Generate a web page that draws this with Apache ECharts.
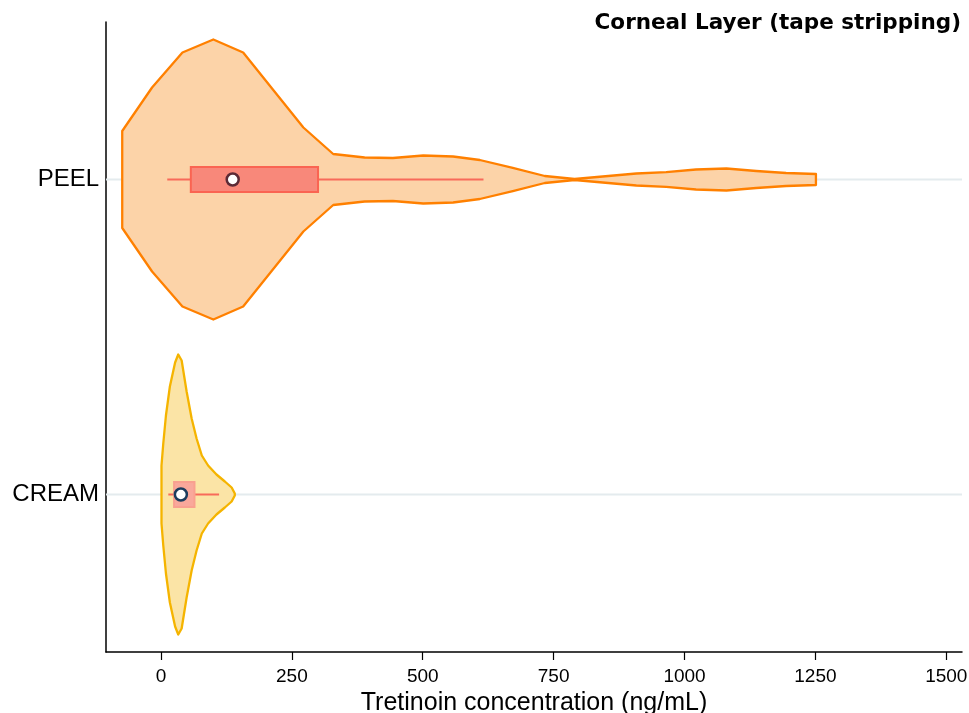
<!DOCTYPE html>
<html>
<head>
<meta charset="utf-8">
<title>Corneal Layer (tape stripping)</title>
<script src="https://cdn.jsdelivr.net/npm/echarts@6/dist/echarts.min.js"></script>
<style>
  html, body { margin: 0; padding: 0; background: #fff; }
  #chart { width: 969px; height: 713px; }
</style>
</head>
<body>
<div id="chart"></div>
<script>
// categories, bottom to top
var categories = ['CREAM', 'PEEL'];

// violin outlines: concentration (ng/mL) and relative density
var peelConc = [-74, -17, 41, 100, 157, 272, 329, 389, 443, 501, 558, 609, 672, 733, 790, 908, 965, 1022, 1080, 1137, 1194, 1251];
var peelDensity = [48.5, 92, 127, 140, 127, 52, 25.5, 22, 21.5, 24, 23, 19.5, 11.7, 3.5, 0.5, 6, 7.4, 10, 11, 8.5, 6.5, 5.5];

var creamConc = [1, 4.4, 9.5, 17, 27, 33, 39.5, 49, 58.6, 68, 78, 90, 106, 122, 135, 141];
var creamDensity = [29, 51, 79, 108, 132, 140, 134, 103, 76, 56, 39, 29, 20, 13, 7, 1];

// box: whisker low, Q1, median, Q3, whisker high
var peelBox = [12, 57, 137, 300, 616];
var creamBox = [14, 25, 38, 64, 111];

var xTicks = [0, 250, 500, 750, 1000, 1250, 1500];

var xMin = -105, xMax = 1530;
var chartW = 969;
var gridBox = { left: 106, right: 7, top: 22, bottom: 61 };

// second grid only carries the tick marks: it spans exactly 0..1500 of the main axis
var plotW = chartW - gridBox.left - gridBox.right;
var tickLeft = gridBox.left + (xTicks[0] - xMin) / (xMax - xMin) * plotW;
var tickRight = chartW - (gridBox.left + (xTicks[xTicks.length - 1] - xMin) / (xMax - xMin) * plotW);

var styles = [
    { fill: '#fbe4a6', stroke: '#f5b400', boxFill: '#f9a89b', boxStroke: '#f9a090', dot: '#1c3d5e' },
    { fill: '#fcd3a8', stroke: '#ff8000', boxFill: '#f8887a', boxStroke: '#fa6452', dot: '#5c2a36' }
];

var violins = [
    { conc: creamConc, dens: creamDensity, box: creamBox },
    { conc: peelConc, dens: peelDensity, box: peelBox }
];

function renderViolin(params, api) {
    var idx = api.value(0);
    var v = violins[idx];
    var st = styles[idx];
    var band = api.size([0, 1])[1];
    var center = api.coord([0, idx])[1];
    var maxD = Math.max.apply(null, v.dens);
    var scale = 0.889 * band / 2 / maxD;
    var cs = params.coordSys;

    var upper = [], lower = [];
    for (var i = 0; i < v.conc.length; i++) {
        var px = api.coord([v.conc[i], idx])[0];
        var hw = v.dens[i] * scale;
        upper.push([px, center - hw]);
        lower.unshift([px, center + hw]);
    }
    var pts = upper.concat(lower);

    var b = v.box;
    var xw0 = api.coord([b[0], idx])[0];
    var xq1 = api.coord([b[1], idx])[0];
    var xmd = api.coord([b[2], idx])[0];
    var xq3 = api.coord([b[3], idx])[0];
    var xw1 = api.coord([b[4], idx])[0];
    var bh = band * 0.04;

    return {
        type: 'group',
        children: [
            {
                type: 'line',
                shape: { x1: cs.x, y1: center, x2: cs.x + cs.width, y2: center },
                style: { stroke: '#e4ebee', lineWidth: 2 }
            },
            {
                type: 'polygon',
                shape: { points: pts },
                style: { fill: st.fill, stroke: st.stroke, lineWidth: 2.3, lineJoin: 'round' }
            },
            {
                type: 'line',
                shape: { x1: xw0, y1: center, x2: xw1, y2: center },
                style: { stroke: '#f86a5a', lineWidth: 2 }
            },
            {
                type: 'rect',
                shape: { x: xq1, y: center - bh, width: xq3 - xq1, height: bh * 2 },
                style: { fill: st.boxFill, stroke: st.boxStroke, lineWidth: 2 }
            },
            {
                type: 'circle',
                shape: { cx: xmd, cy: center, r: 6 },
                style: { fill: '#fff', stroke: st.dot, lineWidth: 2.5 }
            }
        ]
    };
}

var chart = echarts.init(document.getElementById('chart'));

var option = {
    animation: false,
    backgroundColor: '#fff',
    title: {
        text: 'Corneal Layer (tape stripping)',
        right: 3,
        top: 7,
        textStyle: {
            fontFamily: 'DejaVu Sans',
            fontWeight: 'bold',
            fontSize: 21.5,
            color: '#000'
        }
    },
    grid: [
        {
            left: gridBox.left, right: gridBox.right, top: gridBox.top, bottom: gridBox.bottom,
            outerBoundsMode: 'none', containLabel: false
        },
        {
            left: tickLeft, right: tickRight, top: gridBox.top, bottom: gridBox.bottom,
            outerBoundsMode: 'none', containLabel: false
        }
    ],
    xAxis: [
        {
            type: 'value',
            gridIndex: 0,
            min: xMin,
            max: xMax,
            name: 'Tretinoin concentration (ng/mL)',
            nameLocation: 'middle',
            nameGap: 35,
            nameTextStyle: { fontFamily: 'Liberation Sans', fontSize: 25, color: '#000' },
            axisLine: { show: true, onZero: false, lineStyle: { color: '#000', width: 1.5 } },
            axisTick: { show: false },
            axisLabel: {
                customValues: xTicks,
                margin: 15,
                fontFamily: 'Liberation Sans',
                fontSize: 19,
                color: '#000',
                formatter: function (v) { return String(v); }
            },
            splitLine: { show: false }
        },
        {
            type: 'value',
            gridIndex: 1,
            min: xTicks[0],
            max: xTicks[xTicks.length - 1],
            interval: 250,
            axisLine: { show: false, onZero: false },
            axisTick: { show: true, length: 8, lineStyle: { color: '#000', width: 1.2 } },
            axisLabel: { show: false },
            splitLine: { show: false }
        }
    ],
    yAxis: [
        {
            type: 'category',
            gridIndex: 0,
            data: categories,
            axisLine: { show: true, onZero: false, lineStyle: { color: '#000', width: 1.5 } },
            axisTick: { show: false },
            axisLabel: { margin: 7, fontFamily: 'Liberation Sans', fontSize: 24, color: '#000' },
            splitLine: { show: false }
        },
        {
            type: 'value',
            gridIndex: 1,
            show: false
        }
    ],
    series: [
        {
            type: 'custom',
            renderItem: renderViolin,
            xAxisIndex: 0,
            yAxisIndex: 0,
            encode: { y: 0 },
            data: [[0], [1]],
            clip: false
        }
    ]
};

chart.setOption(option);
</script>
</body>
</html>
